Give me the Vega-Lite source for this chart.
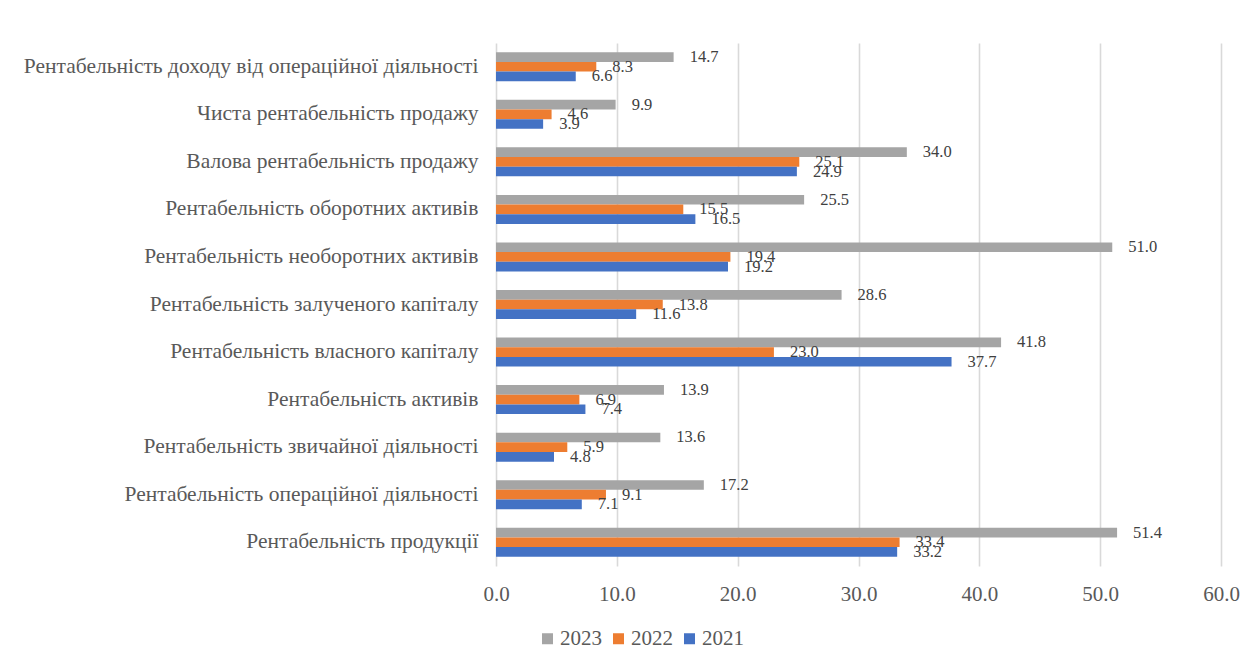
{
  "$schema": "https://vega.github.io/schema/vega-lite/v6.json",
  "autosize": {"type": "none"},
  "padding": {"left": 496, "top": 43, "right": 38, "bottom": 100},
  "width": 725,
  "height": 523,
  "background": "white",
  "config": {
    "font": "Liberation Serif",
    "view": {"stroke": null},
    "axis": {"labelColor": "#595959", "labelFont": "Liberation Serif"},
    "legend": {"labelFont": "Liberation Serif"}
  },
  "data": {
    "values": [
      {"indicator": "Рентабельність доходу від операційної діяльності", "year": "2023", "value": 14.7},
      {"indicator": "Рентабельність доходу від операційної діяльності", "year": "2022", "value": 8.3},
      {"indicator": "Рентабельність доходу від операційної діяльності", "year": "2021", "value": 6.6},
      {"indicator": "Чиста рентабельність продажу", "year": "2023", "value": 9.9},
      {"indicator": "Чиста рентабельність продажу", "year": "2022", "value": 4.6},
      {"indicator": "Чиста рентабельність продажу", "year": "2021", "value": 3.9},
      {"indicator": "Валова рентабельність продажу", "year": "2023", "value": 34.0},
      {"indicator": "Валова рентабельність продажу", "year": "2022", "value": 25.1},
      {"indicator": "Валова рентабельність продажу", "year": "2021", "value": 24.9},
      {"indicator": "Рентабельність оборотних активів", "year": "2023", "value": 25.5},
      {"indicator": "Рентабельність оборотних активів", "year": "2022", "value": 15.5},
      {"indicator": "Рентабельність оборотних активів", "year": "2021", "value": 16.5},
      {"indicator": "Рентабельність необоротних активів", "year": "2023", "value": 51.0},
      {"indicator": "Рентабельність необоротних активів", "year": "2022", "value": 19.4},
      {"indicator": "Рентабельність необоротних активів", "year": "2021", "value": 19.2},
      {"indicator": "Рентабельність залученого капіталу", "year": "2023", "value": 28.6},
      {"indicator": "Рентабельність залученого капіталу", "year": "2022", "value": 13.8},
      {"indicator": "Рентабельність залученого капіталу", "year": "2021", "value": 11.6},
      {"indicator": "Рентабельність власного капіталу", "year": "2023", "value": 41.8},
      {"indicator": "Рентабельність власного капіталу", "year": "2022", "value": 23.0},
      {"indicator": "Рентабельність власного капіталу", "year": "2021", "value": 37.7},
      {"indicator": "Рентабельність активів", "year": "2023", "value": 13.9},
      {"indicator": "Рентабельність активів", "year": "2022", "value": 6.9},
      {"indicator": "Рентабельність активів", "year": "2021", "value": 7.4},
      {"indicator": "Рентабельність звичайної діяльності", "year": "2023", "value": 13.6},
      {"indicator": "Рентабельність звичайної діяльності", "year": "2022", "value": 5.9},
      {"indicator": "Рентабельність звичайної діяльності", "year": "2021", "value": 4.8},
      {"indicator": "Рентабельність операційної діяльності", "year": "2023", "value": 17.2},
      {"indicator": "Рентабельність операційної діяльності", "year": "2022", "value": 9.1},
      {"indicator": "Рентабельність операційної діяльності", "year": "2021", "value": 7.1},
      {"indicator": "Рентабельність продукції", "year": "2023", "value": 51.4},
      {"indicator": "Рентабельність продукції", "year": "2022", "value": 33.4},
      {"indicator": "Рентабельність продукції", "year": "2021", "value": 33.2}
    ]
  },
  "encoding": {
    "y": {
      "field": "indicator",
      "type": "nominal",
      "sort": null,
      "scale": {"paddingInner": 0.39, "paddingOuter": 0.195},
      "axis": {
        "title": null,
        "domain": false,
        "ticks": false,
        "labelFontSize": 21.5,
        "labelColor": "#595959",
        "labelPadding": 18,
        "labelLimit": 500
      }
    },
    "yOffset": {
      "field": "year",
      "type": "nominal",
      "sort": ["2023", "2022", "2021"],
      "scale": {"paddingInner": 0, "paddingOuter": 0}
    },
    "x": {
      "field": "value",
      "type": "quantitative",
      "scale": {"domain": [0, 60], "nice": false},
      "axis": {
        "title": null,
        "values": [0, 10, 20, 30, 40, 50, 60],
        "format": ".1f",
        "domain": false,
        "ticks": false,
        "grid": true,
        "gridColor": "#d9d9d9",
        "gridWidth": 1.6,
        "labelFontSize": 21,
        "labelFlush": false,
        "labelPadding": 17
      }
    }
  },
  "layer": [
    {
      "mark": {"type": "bar"},
      "encoding": {
        "color": {
          "field": "year",
          "type": "nominal",
          "scale": {"domain": ["2023", "2022", "2021"], "range": ["#A5A5A5", "#ED7D31", "#4472C4"]},
          "legend": {
            "title": null,
            "orient": "none",
            "direction": "horizontal",
            "legendX": 41,
            "legendY": 585,
            "symbolType": "square",
            "symbolSize": 121,
            "symbolStrokeWidth": 0,
            "labelFontSize": 21,
            "labelColor": "#595959",
            "labelOffset": 2,
            "columnPadding": 6,
            "padding": 0
          }
        }
      }
    },
    {
      "mark": {"type": "text", "align": "left", "baseline": "middle", "dx": 16, "fontSize": 16.5, "color": "#404040"},
      "encoding": {
        "text": {"field": "value", "type": "quantitative", "format": ".1f"}
      }
    }
  ]
}
